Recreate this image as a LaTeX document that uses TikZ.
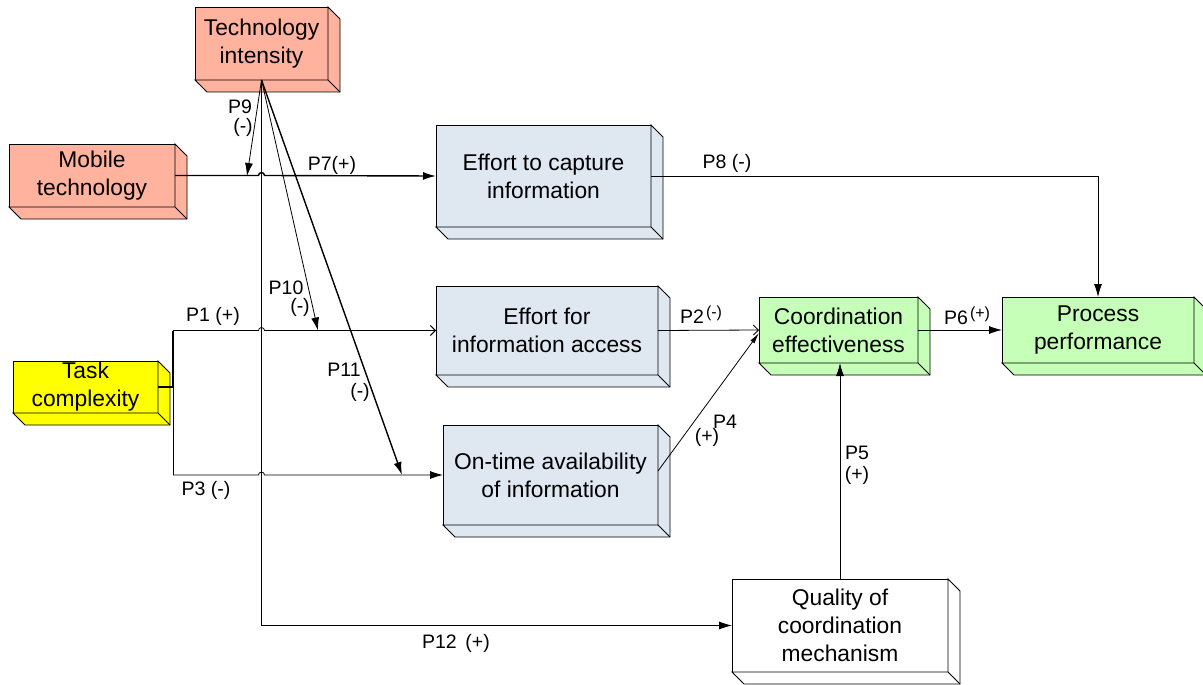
\documentclass[tikz,border=0pt]{standalone}
\usepackage{fontspec}
\setmainfont{Liberation Sans}
\usetikzlibrary{calc,arrows.meta}
\definecolor{salmon}{RGB}{255,179,158}
\definecolor{bluegrey}{RGB}{223,231,241}
\definecolor{lightgreen}{RGB}{197,255,184}
\definecolor{taskyellow}{RGB}{255,255,0}
\newcommand{\boxfont}{\fontsize{22.8}{28}\selectfont}
\newcommand{\labfont}{\fontsize{19.5}{22}\selectfont}
\newcommand{\smlfont}{\fontsize{16}{18}\selectfont}
\newcommand{\extrudebox}[2]{%
  \filldraw[boxline, fill=#2] (#1.north east) -- ++(12,12) -- ($(#1.south east)+(12,12)$) -- ($(#1.south west)+(12,12)$) -- (#1.south west) -- (#1.south east) -- cycle;
  \draw[boxline] (#1.south east) -- ++(12,12);
}
\tikzset{
  boxline/.style={draw=black, line width=0.9pt, line join=miter},
  box3d/.style={boxline, inner sep=0pt, outer sep=0pt, align=center, font=\boxfont},
  conn/.style={draw=black, line width=0.8pt},
  thickconn/.style={draw=black, line width=1.4pt},
  fillarrow/.style={-{Latex[length=13pt,width=8pt]}},
  openarrow/.style={-{Straight Barb[length=5pt,width=10pt,line width=0.9pt]}},
  lab/.style={inner sep=0pt, font=\labfont},
  slab/.style={inner sep=0pt, font=\smlfont}
}
\begin{document}
\begin{tikzpicture}[x=1pt,y=-1pt]
\useasboundingbox (0,0) rectangle (1203,685);

% boxes
\node[box3d, fill=salmon, minimum width=133, minimum height=73] (tech) at (261.5,43.5) {Technology\\intensity};
\extrudebox{tech}{salmon}
\node[box3d, fill=salmon, minimum width=166, minimum height=63] (mobile) at (92,175.5) {Mobile\\technology};
\extrudebox{mobile}{salmon}
\node[box3d, fill=taskyellow, minimum width=145, minimum height=52] (task) at (85.5,387) {Task\\complexity};
\extrudebox{task}{taskyellow}
\node[box3d, fill=bluegrey, minimum width=215, minimum height=102] (capture) at (543.5,176) {Effort to capture\\information};
\extrudebox{capture}{bluegrey}
\node[box3d, fill=bluegrey, minimum width=222, minimum height=89] (access) at (547,330.5) {Effort for\\information access};
\extrudebox{access}{bluegrey}
\node[box3d, fill=bluegrey, minimum width=215, minimum height=100] (ontime) at (550.5,475) {On-time availability\\of information};
\extrudebox{ontime}{bluegrey}
\node[box3d, fill=lightgreen, minimum width=159, minimum height=66] (coord) at (838.5,330) {Coordination\\effectiveness};
\extrudebox{coord}{lightgreen}
\node[box3d, fill=lightgreen, minimum width=192, minimum height=66] (process) at (1098,330) {Process\\performance};
\extrudebox{process}{lightgreen}
\node[box3d, fill=white, minimum width=216, minimum height=93] (quality) at (840,625.5) {Quality of\\coordination\\mechanism};
\extrudebox{quality}{white}

% helper coordinates
\coordinate (tk) at ($(task.east)+(15,0)$);
\coordinate (p9t) at (247,176);
\coordinate (p10t) at (318,330.5);
\coordinate (p11t) at (402,475);

% P7
\draw[thickconn, fillarrow] (mobile.east) -- ($(tech.south |- mobile.east)+(-3,0)$) arc[start angle=180, end angle=360, radius=3] -- (capture.west);
% P8
\draw[conn, fillarrow] (capture.east) -| (process.north);
% P12 (vertical from technology intensity)
\draw[conn, fillarrow] (tech.south) -- (tech.south |- quality.west) -- (quality.west);
% P9, P10, P11
\draw[conn, fillarrow] (tech.south) -- (p9t);
\draw[conn, fillarrow] (tech.south) -- (p10t);
\draw[thickconn, fillarrow] (tech.south) -- (p11t);
% Task complexity
\draw[thickconn] (task.east) -- (tk) -- (tk |- access.west);
\draw[conn, openarrow] (tk |- access.west) -- ($(tech.south |- access.west)+(-3,0)$) arc[start angle=180, end angle=360, radius=3] -- (access.west);
\draw[conn] (tk) -- (tk |- ontime.west);
\draw[conn, fillarrow] (tk |- ontime.west) -- ($(tech.south |- ontime.west)+(-3,0)$) arc[start angle=180, end angle=360, radius=3] -- (ontime.west);
% P2
\draw[conn, openarrow] (access.east) -- (coord.west);
% P4
\draw[conn, -{Latex[length=11pt,width=5pt]}] ($(ontime.east)+(0,-4)$) -- ($(coord.west)+(0,3)$);
% P5
\draw[conn, fillarrow] (quality.north) -- (quality.north |- coord.south);
% P6
\draw[conn, fillarrow] (coord.east) -- (process.west);

% labels
\node[lab] (l9a) at (240,107) {P9};
\node[lab] (l9b) at (243,127) {(-)};
\node[lab] (l7) at (332,165) {P7(+)};
\node[lab] (l8) at (727,163) {P8 (-)};
\node[lab] (l10a) at (286,288) {P10};
\node[lab] (l10b) at (300,307) {(-)};
\node[lab] (l11a) at (344,370) {P11};
\node[lab] (l11b) at (360,392) {(-)};
\node[lab] (l1) at (213,316) {P1 (+)};
\node[lab] (l3) at (206,490) {P3 (-)};
\node[lab] (l2a) at (692,317) {P2};
\node[slab] (l2b) at (714,313) {(-)};
\node[lab] (l6a) at (956,318) {P6};
\node[slab] (l6b) at (980,314) {(+)};
\node[lab] (l4a) at (725,422) {P4};
\node[lab] (l4b) at (707,437) {(+)};
\node[lab] (l5a) at (857,453) {P5};
\node[lab] (l5b) at (857,475) {(+)};
\node[lab] (l12) at (456,643) {P12 \,(+)};
\end{tikzpicture}
\end{document}
